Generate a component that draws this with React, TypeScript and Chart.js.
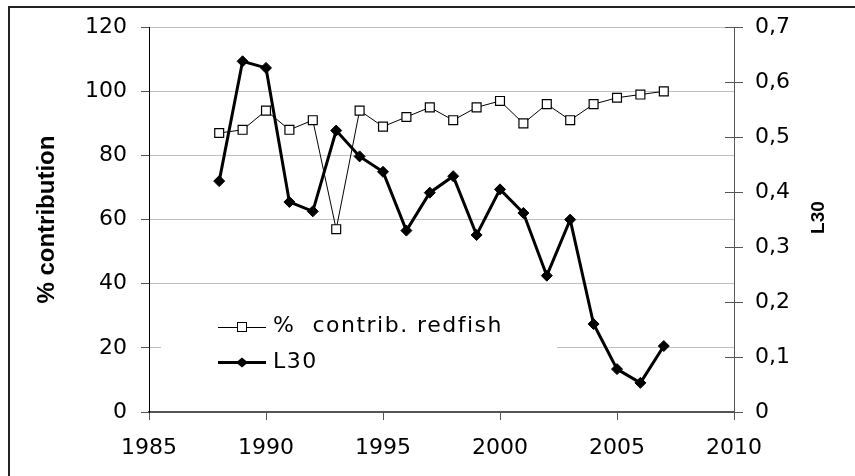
import React, { useEffect, useRef } from "react";
import { Chart, registerables } from "chart.js";

Chart.register(...registerables);

const years = [1988, 1989, 1990, 1991, 1992, 1993, 1994, 1995, 1996, 1997, 1998, 1999, 2000, 2001, 2002, 2003, 2004, 2005, 2006, 2007];
const redfishPct = [87, 88, 94, 88, 91, 57, 94, 89, 92, 95, 91, 95, 97, 90, 96, 91, 96, 98, 99, 100];
const l30 = [0.42, 0.638, 0.626, 0.382, 0.365, 0.512, 0.465, 0.437, 0.33, 0.399, 0.429, 0.322, 0.405, 0.362, 0.248, 0.35, 0.16, 0.078, 0.053, 0.12];

const seriesNames = ["%  contrib. redfish", "L30"];
const axisTitles = { left: "% contribution", right: "L30" };

const TICK_FONT = "'DejaVu Sans', sans-serif";
const TITLE_FONT = "'Liberation Sans', Arial, sans-serif";

const decoPlugin = {
  id: "deco",
  afterDraw(chart: any) {
    const ctx = chart.ctx as CanvasRenderingContext2D;
    const y1 = chart.scales.y1;
    const area = chart.chartArea;
    ctx.save();
    // outer frame
    ctx.strokeStyle = "#222";
    ctx.lineWidth = 2;
    ctx.beginPath();
    ctx.moveTo(9, 480);
    ctx.lineTo(9, 7);
    ctx.lineTo(860, 7);
    ctx.stroke();

    // inner part of right axis ticks (crossing ticks)
    ctx.strokeStyle = "#555";
    ctx.lineWidth = 1;
    y1.ticks.forEach((t: any) => {
      const py = Math.round(y1.getPixelForValue(t.value)) + 0.5;
      ctx.beginPath();
      ctx.moveTo(y1.left - 9, py);
      ctx.lineTo(y1.left, py);
      ctx.stroke();
    });

    // right title, reading bottom-to-top
    ctx.fillStyle = "#000";
    ctx.font = `bold 19px ${TITLE_FONT}`;
    ctx.textAlign = "center";
    ctx.textBaseline = "middle";
    ctx.translate(819, (area.top + area.bottom) / 2 - 2);
    ctx.rotate(-Math.PI / 2);
    ctx.fillText(axisTitles.right, 0, 0);
    ctx.restore();
  },
  afterDatasetsDraw(chart: any) {
    const ctx = chart.ctx as CanvasRenderingContext2D;
    ctx.save();
    // legend box (white, hides gridline)
    ctx.fillStyle = "#fff";
    ctx.fillRect(161, 300, 396, 82);
    const x0 = 218, x1 = 266, xm = 242, tx = 273;
    const rows = [326.5, 362.5];
    // redfish sample
    ctx.strokeStyle = "#000";
    ctx.lineWidth = 1;
    ctx.beginPath();
    ctx.moveTo(x0, Math.round(rows[0]) + 0.5);
    ctx.lineTo(x1, Math.round(rows[0]) + 0.5);
    ctx.stroke();
    ctx.fillStyle = "#fff";
    ctx.fillRect(xm - 4.5, rows[0] - 4, 9, 9);
    ctx.strokeRect(xm - 4.5, rows[0] - 4, 9, 9);
    // L30 sample
    ctx.lineWidth = 3;
    ctx.beginPath();
    ctx.moveTo(x0, rows[1]);
    ctx.lineTo(x1, rows[1]);
    ctx.stroke();
    ctx.fillStyle = "#000";
    ctx.beginPath();
    ctx.moveTo(xm - 6, rows[1]);
    ctx.lineTo(xm, rows[1] - 5);
    ctx.lineTo(xm + 6, rows[1]);
    ctx.lineTo(xm, rows[1] + 5);
    ctx.closePath();
    ctx.fill();
    // texts
    ctx.font = `22px ${TICK_FONT}`;
    ctx.textAlign = "left";
    ctx.textBaseline = "middle";
    (ctx as any).letterSpacing = "1.5px";
    ctx.fillText(seriesNames[0], tx, rows[0]);
    ctx.fillText(seriesNames[1], tx, rows[1]);
    ctx.restore();
  },
};

export default function App() {
  const ref = useRef<HTMLCanvasElement | null>(null);
  useEffect(() => {
    document.body.style.margin = "0";
    const canvas = ref.current!;
    const chart = new Chart(canvas, {
      type: "line",
      data: {
        datasets: [
          {
            label: seriesNames[0],
            data: years.map((y, i) => ({ x: y, y: redfishPct[i] })),
            yAxisID: "y",
            borderColor: "#000",
            borderWidth: 1,
            pointStyle: "rect",
            pointRadius: 6.3,
            pointBackgroundColor: "#fff",
            pointBorderColor: "#000",
            pointBorderWidth: 1.2,
            tension: 0,
          },
          {
            label: seriesNames[1],
            data: years.map((y, i) => ({ x: y, y: l30[i] })),
            yAxisID: "y1",
            borderColor: "#000",
            borderWidth: 3,
            pointStyle: "rectRot",
            pointRadius: 5.5,
            pointBackgroundColor: "#000",
            pointBorderColor: "#000",
            pointBorderWidth: 1,
            tension: 0,
          },
        ],
      },
      options: {
        responsive: false,
        animation: false,
        layout: { padding: { top: 26, left: 0, right: 0, bottom: 0 } },
        plugins: { legend: { display: false }, tooltip: { enabled: false } },
        scales: {
          x: {
            type: "linear",
            min: 1985,
            max: 2010,
            afterFit: (s: any) => { s.height = 64; },
            ticks: {
              stepSize: 5,
              color: "#000",
              padding: 15,
              font: { family: TICK_FONT, size: 22 },
              callback: (v: any) => String(v),
            },
            grid: { drawOnChartArea: false, tickLength: 8, tickColor: "#555" },
            border: { color: "#555", width: 2 },
          },
          y: {
            position: "left",
            min: 0,
            max: 120,
            afterFit: (s: any) => { s.width = 149; },
            ticks: {
              stepSize: 20,
              color: "#000",
              padding: 14,
              font: { family: TICK_FONT, size: 22 },
            },
            grid: { color: "#c0c0c0", tickColor: "#555", tickLength: 8 },
            border: { color: "#000", width: 1 },
            title: {
              display: true,
              text: axisTitles.left,
              color: "#000",
              font: { family: TITLE_FONT, size: 24, weight: "bold" },
              padding: { top: 33, bottom: 0 },
            },
          },
          y1: {
            position: "right",
            min: 0,
            max: 0.7,
            afterFit: (s: any) => { s.width = 121; },
            ticks: {
              stepSize: 0.1,
              color: "#000",
              padding: 12,
              font: { family: TICK_FONT, size: 22 },
              callback: (v: any) => (Math.abs(v) < 1e-9 ? "0" : Number(v).toFixed(1).replace(".", ",")),
            },
            grid: { drawOnChartArea: false, tickColor: "#555", tickLength: 9 },
            border: { color: "#555", width: 1 },
          },
        },
      },
      plugins: [decoPlugin],
    });
    return () => chart.destroy();
  }, []);
  return <canvas ref={ref} width={855} height={476} style={{ display: "block" }} />;
}
